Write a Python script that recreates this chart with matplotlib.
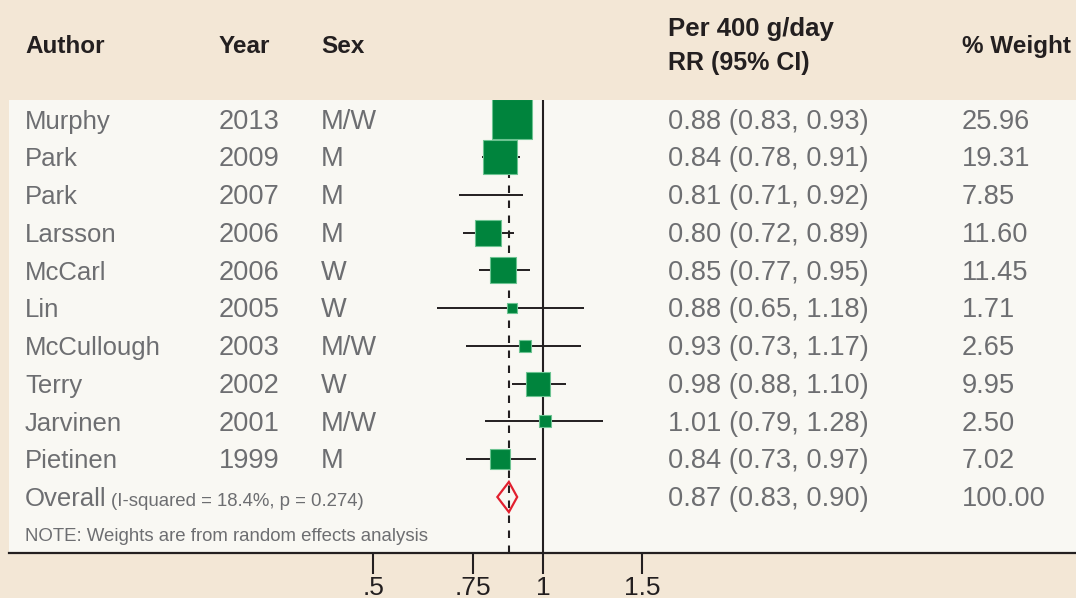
import numpy as np
import matplotlib
matplotlib.use('Agg')
import matplotlib.pyplot as plt
from matplotlib.transforms import blended_transform_factory, ScaledTranslation

# ---------------- data ----------------
authors = ['Murphy', 'Park', 'Park', 'Larsson', 'McCarl', 'Lin',
           'McCullough', 'Terry', 'Jarvinen', 'Pietinen']
years = ['2013', '2009', '2007', '2006', '2006', '2005', '2003', '2002', '2001', '1999']
sexes = ['M/W', 'M', 'M', 'M', 'W', 'W', 'M/W', 'W', 'M/W', 'M']
rr = [0.88, 0.84, 0.81, 0.80, 0.85, 0.88, 0.93, 0.98, 1.01, 0.84]
ci_low = [0.83, 0.78, 0.71, 0.72, 0.77, 0.65, 0.73, 0.88, 0.79, 0.73]
ci_high = [0.93, 0.91, 0.92, 0.89, 0.95, 1.18, 1.17, 1.10, 1.28, 0.97]
weights = [25.96, 19.31, 7.85, 11.60, 11.45, 1.71, 2.65, 9.95, 2.50, 7.02]
# the reference shows no weight box for the Park 2007 study
marker_shown = [True, True, False, True, True, True, True, True, True, True]

overall_rr = 0.87
overall_low = 0.83
overall_high = 0.90
overall_weight = 100.00
i_squared = 18.4
p_value = 0.274

tick_values = [0.5, 0.75, 1, 1.5]
tick_labels = ['.5', '.75', '1', '1.5']

# ---------------- style ----------------
W, H = 1076, 598
BG = '#f3e7d6'
PANEL = '#f9f8f3'
DARK = '#231f20'
GREY = '#6d6e71'
GREEN = '#00843d'
GREEN_EDGE = '#6cc391'
RED = '#e2202f'
FONT = 'Liberation Sans'

plt.rcParams['font.family'] = [FONT, 'DejaVu Sans']

fig = plt.figure(figsize=(W / 100, H / 100), dpi=100, facecolor=BG)

left_px, right_px, top_px, bot_px = 9, 1076, 100, 553
ax = fig.add_axes([left_px / W, (H - bot_px) / H, (right_px - left_px) / W,
                   (bot_px - top_px) / H])
ax.set_facecolor(PANEL)
ax.set_xscale('log')
k = 245.0   # px per ln unit
x_one = 543.0
ax.set_xlim(np.exp((left_px - x_one) / k), np.exp((right_px - x_one) / k))

row0_px, row_step = 119.5, 37.75
ax.set_ylim((bot_px - row0_px) / row_step, (top_px - row0_px) / row_step)

n = len(authors)
rows = np.arange(n)
overall_row = n
note_row = n + 1

# reference lines
ax.axvline(1, color=DARK, lw=1.5, zorder=2)
ax.axvline(overall_rr, color=DARK, lw=1.5, ls=(0, (3.6, 3.6)), zorder=2)

# CIs
ax.hlines(rows, ci_low, ci_high, color=DARK, lw=1.4, zorder=3)

# weight boxes (area proportional to weight)
ref_side_px = 39.3
for r, est, w, show in zip(rows, rr, weights, marker_shown):
    if not show:
        continue
    side_pt = ref_side_px * np.sqrt(w / max(weights)) * 0.72
    ax.plot([est], [r], marker='s', ms=side_pt, color=GREEN,
            mec=GREEN_EDGE, mew=0.8, zorder=4, ls='none')

# overall diamond
dh = 0.40
ax.fill([overall_low, overall_rr, overall_high, overall_rr],
        [overall_row, overall_row - dh, overall_row, overall_row + dh],
        facecolor='none', edgecolor=RED, lw=1.6, zorder=5)

# axis styling
for s in ['top', 'left', 'right']:
    ax.spines[s].set_visible(False)
ax.spines['bottom'].set_color(DARK)
ax.spines['bottom'].set_linewidth(1.6)
ax.set_yticks([])
ax.minorticks_off()
ax.set_xticks(tick_values)
ax.set_xticklabels(tick_labels)
ax.xaxis.set_minor_locator(matplotlib.ticker.NullLocator())
ax.tick_params(axis='x', direction='out', length=15, width=1.5, color=DARK,
               labelsize=19, labelcolor=DARK, pad=1.5)

# ---------------- text columns ----------------
trans = blended_transform_factory(fig.transFigure, ax.transData) + \
    ScaledTranslation(0, -9.2 / 100, fig.dpi_scale_trans)

col_author, col_year, col_sex, col_rr, col_w = 25, 219, 321, 668, 962
fs = 18.5      # names
fsn = 19.6     # numbers (reference font has wide digits)


def row_text(x_px, r, s, size, tr=trans):
    ax.text(x_px / W, r, s, transform=tr, fontsize=size, color=GREY,
            va='baseline', ha='left')


for r in rows:
    row_text(col_author, r, authors[r], fs)
    row_text(col_year, r, years[r], fsn)
    row_text(col_sex, r, sexes[r], fsn)
    row_text(col_rr, r, f"{rr[r]:.2f} ({ci_low[r]:.2f}, {ci_high[r]:.2f})", fsn)
    row_text(col_w, r, f"{weights[r]:.2f}", fsn)

row_text(col_author, overall_row, 'Overall', fs)
row_text(111, overall_row, f"(I-squared = {i_squared:.1f}%, p = {p_value:.3f})", 13.4)
row_text(col_rr, overall_row,
         f"{overall_rr:.2f} ({overall_low:.2f}, {overall_high:.2f})", fsn)
row_text(col_w, overall_row, f"{overall_weight:.2f}", fsn)

trans_note = blended_transform_factory(fig.transFigure, ax.transData) + \
    ScaledTranslation(0, -6.5 / 100, fig.dpi_scale_trans)
row_text(col_author, note_row, 'NOTE: Weights are from random effects analysis',
         13.4, trans_note)

# headers
hfs = 17.5


def header(x_px, base_px, s, size=hfs):
    fig.text(x_px / W, 1 - base_px / H, s, fontsize=size, fontweight='bold',
             color=DARK, va='baseline', ha='left')


header(col_author, 53, 'Author')
header(col_year, 53, 'Year')
header(col_sex, 53, 'Sex')
header(col_rr, 36, 'Per 400 g/day', 18.5)
header(col_rr, 70, 'RR (95% CI)', 18)
header(col_w, 53, '% Weight')

fig.savefig('out.png', dpi=100, facecolor=BG)
